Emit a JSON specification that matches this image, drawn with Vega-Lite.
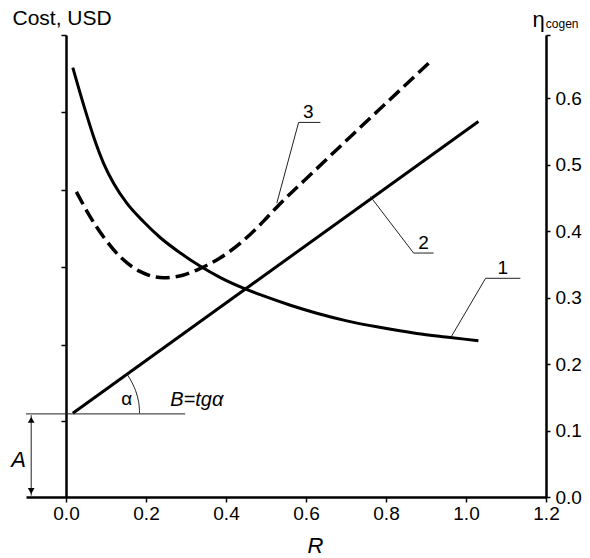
{
  "$schema": "https://vega.github.io/schema/vega-lite/v6.json",
  "width": 520,
  "height": 462,
  "autosize": {"type": "none"},
  "padding": {"left": 26, "top": 35, "right": 44, "bottom": 61},
  "config": {
    "font": "Liberation Sans",
    "view": {"stroke": null},
    "axis": {"grid": false, "domainColor": "#000", "tickColor": "#000", "labelColor": "#000", "titleColor": "#000", "labelFont": "Liberation Sans", "titleFont": "Liberation Sans", "titleFontWeight": "normal"}
  },
  "layer": [
    {
      "encoding": {
        "x": {
          "field": "x", "type": "quantitative",
          "scale": {"domain": [-0.1, 1.2], "nice": false, "zero": false},
          "axis": {
            "values": [0, 0.2, 0.4, 0.6, 0.8, 1.0, 1.2],
            "format": ".1f",
            "labelFontSize": 19,
            "labelPadding": 2,
            "tickSize": 5, "tickWidth": 1.5,
            "domainWidth": 2.5,
            "labelFlush": false,
            "title": "R",
            "titleFontSize": 22,
            "titleFontStyle": "italic",
            "titleX": 289,
            "titleY": 55,
            "titleBaseline": "alphabetic",
            "titleAlign": "center"
          }
        },
        "y": {
          "field": "y", "type": "quantitative",
          "scale": {"domain": [0, 0.695], "nice": false, "zero": false},
          "axis": {
            "orient": "left",
            "offset": -40,
            "values": [0.1147, 0.2291, 0.3454, 0.4617, 0.5794, 0.695],
            "labels": false,
            "tickSize": 5, "tickWidth": 1.5,
            "domainWidth": 2.5,
            "title": "Cost, USD",
            "titleFontSize": 21,
            "titleAngle": 0,
            "titleAlign": "left",
            "titleBaseline": "alphabetic",
            "titleX": -54,
            "titleY": -11
          }
        }
      },
      "layer": [
        {
          "data": {"values": [
            {"c": "1", "x": 0.017, "y": 0.646},
            {"c": "1", "x": 0.048, "y": 0.582},
            {"c": "1", "x": 0.069, "y": 0.542},
            {"c": "1", "x": 0.094, "y": 0.502},
            {"c": "1", "x": 0.119, "y": 0.472},
            {"c": "1", "x": 0.152, "y": 0.442},
            {"c": "1", "x": 0.194, "y": 0.414},
            {"c": "1", "x": 0.236, "y": 0.390},
            {"c": "1", "x": 0.286, "y": 0.367},
            {"c": "1", "x": 0.336, "y": 0.347},
            {"c": "1", "x": 0.386, "y": 0.330},
            {"c": "1", "x": 0.448, "y": 0.313},
            {"c": "1", "x": 0.494, "y": 0.3025},
            {"c": "1", "x": 0.561, "y": 0.2885},
            {"c": "1", "x": 0.627, "y": 0.2765},
            {"c": "1", "x": 0.702, "y": 0.265},
            {"c": "1", "x": 0.777, "y": 0.256},
            {"c": "1", "x": 0.877, "y": 0.246},
            {"c": "1", "x": 0.961, "y": 0.240},
            {"c": "1", "x": 1.031, "y": 0.235},
            {"c": "2", "x": 0.017, "y": 0.126},
            {"c": "2", "x": 1.031, "y": 0.565}
          ]},
          "mark": {"type": "line", "color": "#000", "strokeWidth": 3, "interpolate": "monotone", "strokeCap": "butt"},
          "encoding": {"detail": {"field": "c"}}
        },
        {
          "data": {"values": [
            {"x": 0.026, "y": 0.459},
            {"x": 0.061, "y": 0.421},
            {"x": 0.094, "y": 0.391},
            {"x": 0.136, "y": 0.361},
            {"x": 0.186, "y": 0.339},
            {"x": 0.244, "y": 0.330},
            {"x": 0.294, "y": 0.334},
            {"x": 0.336, "y": 0.344},
            {"x": 0.386, "y": 0.360},
            {"x": 0.436, "y": 0.382},
            {"x": 0.494, "y": 0.415},
            {"x": 0.527, "y": 0.436},
            {"x": 0.627, "y": 0.494},
            {"x": 0.711, "y": 0.542},
            {"x": 0.794, "y": 0.589},
            {"x": 0.911, "y": 0.655}
          ]},
          "mark": {"type": "line", "color": "#000", "strokeWidth": 3.5, "interpolate": "monotone", "strokeDash": [14, 6], "strokeCap": "butt"}
        },
        {
          "data": {"values": [
            {"g": "L3", "x": 0.527, "y": 0.442},
            {"g": "L3", "x": 0.5815, "y": 0.5635},
            {"g": "L3", "x": 0.636, "y": 0.5635},
            {"g": "L2", "x": 0.761, "y": 0.452},
            {"g": "L2", "x": 0.869, "y": 0.367},
            {"g": "L2", "x": 0.919, "y": 0.367},
            {"g": "L1", "x": 0.964, "y": 0.242},
            {"g": "L1", "x": 1.049, "y": 0.329},
            {"g": "L1", "x": 1.136, "y": 0.329},
            {"g": "H", "x": -0.1, "y": 0.125},
            {"g": "H", "x": 0.298, "y": 0.125},
            {"g": "V", "x": -0.087, "y": 0.123},
            {"g": "V", "x": -0.087, "y": 0.002}
          ]},
          "mark": {"type": "line", "color": "#222", "strokeWidth": 1},
          "encoding": {"detail": {"field": "g"}}
        },
        {
          "data": {"values": [
            {"x": 0.152, "y": 0.185},
            {"x": 0.1616, "y": 0.176},
            {"x": 0.174, "y": 0.160},
            {"x": 0.1815, "y": 0.1433},
            {"x": 0.184, "y": 0.126}
          ]},
          "mark": {"type": "line", "color": "#222", "strokeWidth": 1, "interpolate": "cardinal"}
        },
        {
          "data": {"values": [
            {"x": -0.087, "y": 0.116, "s": "triangle-up"},
            {"x": -0.087, "y": 0.009, "s": "triangle-down"}
          ]},
          "mark": {"type": "point", "filled": true, "color": "#000", "size": 45, "opacity": 1},
          "encoding": {"shape": {"field": "s", "type": "nominal", "scale": null}}
        },
        {
          "data": {"values": [
            {"x": 0.606, "y": 0.567, "t": "3"},
            {"x": 0.894, "y": 0.370, "t": "2"},
            {"x": 1.092, "y": 0.332, "t": "1"}
          ]},
          "mark": {"type": "text", "fontSize": 19, "color": "#000", "align": "center", "baseline": "alphabetic", "dy": -2},
          "encoding": {"text": {"field": "t"}}
        },
        {
          "data": {"values": [
            {"x": 0.152, "y": 0.148, "t": "α"}
          ]},
          "mark": {"type": "text", "fontSize": 19, "color": "#000", "align": "center", "baseline": "middle"},
          "encoding": {"text": {"field": "t"}}
        },
        {
          "data": {"values": [
            {"x": 1.1995, "y": 0.7053, "t": "cogen"}
          ]},
          "mark": {"type": "text", "fontSize": 12, "color": "#000", "align": "left", "baseline": "alphabetic"},
          "encoding": {"text": {"field": "t"}}
        },
        {
          "data": {"values": [
            {"x": 0.327, "y": 0.146, "t": "B=tgα"}
          ]},
          "mark": {"type": "text", "fontSize": 20, "fontStyle": "italic", "color": "#000", "align": "center", "baseline": "middle"},
          "encoding": {"text": {"field": "t"}}
        },
        {
          "data": {"values": [
            {"x": -0.1185, "y": 0.0556, "t": "A"}
          ]},
          "mark": {"type": "text", "fontSize": 22, "fontStyle": "italic", "color": "#000", "align": "center", "baseline": "middle"},
          "encoding": {"text": {"field": "t"}}
        }
      ]
    },
    {
      "data": {"values": [{}]},
      "mark": {"type": "rule", "opacity": 0},
      "encoding": {
        "y": {
          "datum": 0, "type": "quantitative",
          "scale": {"domain": [0, 0.695], "nice": false, "zero": false},
          "axis": {
            "orient": "right",
            "values": [0, 0.1, 0.2, 0.3, 0.4, 0.5, 0.6, 0.695],
            "labelExpr": "datum.value > 0.65 ? '' : format(datum.value, '.1f')",
            "labelFontSize": 19,
            "labelPadding": 5,
            "tickSize": 4, "tickWidth": 1.5,
            "domainWidth": 2.5,
            "labelFlush": false,
            "labelOverlap": false,
            "title": "η",
            "titleFontSize": 22,
            "titleAngle": 0,
            "titleAlign": "left",
            "titleBaseline": "alphabetic",
            "titleX": -14,
            "titleY": -9
          }
        }
      }
    }
  ],
  "resolve": {"scale": {"y": "independent"}}
}
